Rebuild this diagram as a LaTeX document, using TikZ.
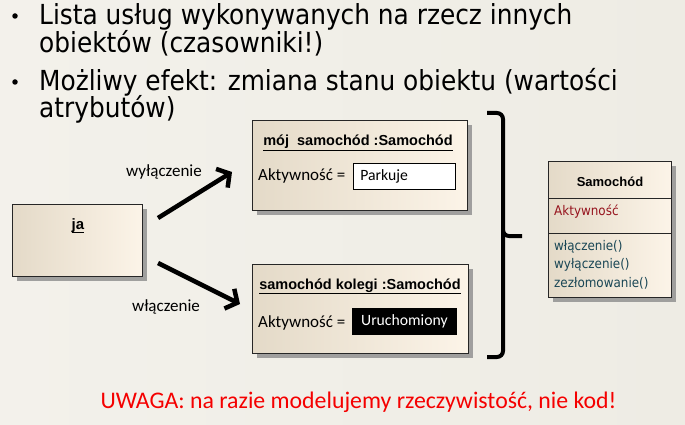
\documentclass[tikz,border=0pt]{standalone}
\usepackage{fontspec}
\setmainfont{Carlito}
\newfontfamily\slidefont{DejaVu Sans Condensed}
\newfontfamily\umlfont{Liberation Sans}
\usetikzlibrary{arrows.meta,shadows}

\definecolor{bgL}{RGB}{243,241,235}
\definecolor{bgR}{RGB}{238,236,228}
\definecolor{beigeL}{RGB}{228,218,200}
\definecolor{beigeR}{RGB}{252,244,232}
\definecolor{attrred}{RGB}{150,20,30}
\definecolor{opteal}{RGB}{25,70,85}
\definecolor{warnred}{RGB}{245,0,0}

\tikzset{
  bullettext/.style={anchor=base west, inner sep=0pt, font=\slidefont\fontsize{27.6}{30}\selectfont},
  bulletdot/.style={circle, fill=black, inner sep=0pt, minimum size=5.5pt},
  umlbox/.style={anchor=north west, draw=black!85, line width=1.1pt,
    left color=beigeL, right color=beigeR,
    drop shadow={shadow xshift=4pt, shadow yshift=-4pt, fill=black!45, opacity=0.8}},
  objtitle/.style={anchor=base, inner sep=0pt, font=\umlfont\bfseries\fontsize{14.5}{16}\selectfont},
  attrtext/.style={anchor=base west, inner sep=0pt, font=\fontsize{17}{19}\selectfont},
  valbox/.style={anchor=north west, draw=black, line width=0.8pt, minimum height=26pt,
    inner xsep=0pt, font=\fontsize{15.7}{18}\selectfont},
  flowarrow/.style={line width=4.5pt, -{Straight Barb[length=9pt, width=22pt]}},
  msglabel/.style={inner sep=0pt, font=\fontsize{17}{19}\selectfont},
  clsline/.style={draw=black!85, line width=1pt},
  clstext/.style={anchor=west, inner sep=0pt, font=\slidefont\fontsize{13.3}{15}\selectfont},
}

\begin{document}
\begin{tikzpicture}[x=1pt, y=-1pt]
  % slide background
  \shade[left color=bgL, right color=bgR] (0,0) rectangle (685,425);
  \useasboundingbox (0,0) rectangle (685,425);

  % bullet list
  \node[bulletdot] (b1) at (15,16) {};
  \node[bullettext] (l1) at (39,25) {Lista usług wykonywanych na rzecz innych};
  \node[bullettext] (l2) at (39,53) {obiektów (czasowniki!)};
  \node[bulletdot] (b2) at (15,82) {};
  \node[bullettext] (l3) at (39,91) {Możliwy efekt: zmiana stanu obiektu (wartości};
  \node[bullettext] (l4) at (39,118) {atrybutów)};

  % object "ja"
  \node[umlbox, minimum width=130pt, minimum height=72pt] (ja) at (12,204) {};
  \node[anchor=base, inner sep=0pt, font=\umlfont\bfseries\fontsize{15}{17}\selectfont] (jat) at (78,229) {ja};
  \draw[line width=0.9pt] ([yshift=-3pt]jat.base west) -- ([yshift=-3pt]jat.base east);

  % object "mój samochód"
  \node[umlbox, minimum width=215pt, minimum height=90pt] (car1) at (252,120) {};
  \node[objtitle] (t1) at (358,146) {mój\ \ samochód :Samochód};
  \draw[line width=0.9pt] ([yshift=-4pt]t1.base west) -- ([yshift=-4pt]t1.base east);
  \node[attrtext] (a1) at (258,180) {Aktywność =};
  \node[valbox, fill=white, text width=88pt, align=left, inner xsep=7pt] (v1) at (353,163) {Parkuje};

  % object "samochód kolegi"
  \node[umlbox, minimum width=216pt, minimum height=89pt] (car2) at (252,264) {};
  \node[objtitle] (t2) at (360,289) {samochód kolegi :Samochód};
  \draw[line width=0.9pt] ([yshift=-4pt]t2.base west) -- ([yshift=-4pt]t2.base east);
  \node[attrtext] (a2) at (258,327) {Aktywność =};
  \node[valbox, fill=black, text=white, minimum width=104pt] (v2) at (352,308) {Uruchomiony};

  % messages
  \coordinate (m1s) at (158,218);
  \coordinate (m1e) at (232,172);
  \coordinate (m2s) at (158,263);
  \coordinate (m2e) at (240,304);
  \draw[flowarrow] (m1s) -- (m1e);
  \draw[flowarrow] (m2s) -- (m2e);
  \node[msglabel] (w1) at (164,172) {wyłączenie};
  \node[msglabel] (w2) at (166,307) {włączenie};

  % brace grouping the objects
  \draw[line width=4pt, rounded corners=6pt]
    (487,113) -- (503,113) -- (503,236) -- (522,236);
  \draw[line width=4pt, rounded corners=6pt]
    (503,230) -- (503,357) -- (487,357);

  % class Samochód
  \node[umlbox, minimum width=123pt, minimum height=136pt] (cls) at (548,161) {};
  \draw[clsline] (548,198) -- (671,198);
  \draw[clsline] (548,233) -- (671,233);
  \node[anchor=center, inner sep=0pt, font=\umlfont\bfseries\fontsize{13}{15}\selectfont] (cn) at (610,182) {Samochód};
  \node[clstext, text=attrred] (ca) at (554,212) {Aktywność};
  \node[clstext, text=opteal] (o1) at (554,247) {włączenie()};
  \node[clstext, text=opteal] (o2) at (554,265) {wyłączenie()};
  \node[clstext, text=opteal] (o3) at (554,283) {zezłomowanie()};

  % note
  \node[anchor=base, inner sep=0pt, text=warnred, font=\fontsize{23.8}{26}\selectfont] (note) at (358.5,408)
    {UWAGA: na razie modelujemy rzeczywistość, nie kod!};
\end{tikzpicture}
\end{document}
